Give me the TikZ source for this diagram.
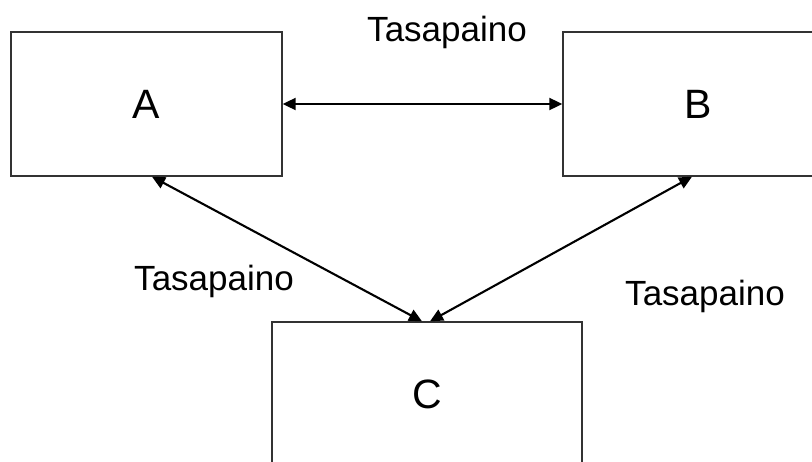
\documentclass[tikz,border=0pt]{standalone}
\usepackage{fontspec}
\setmainfont{Liberation Sans}
\usetikzlibrary{arrows.meta}

\begin{document}
\begin{tikzpicture}[x=1pt,y=-1pt]
\tikzstyle{every node}+=[inner sep=0pt]
\tikzstyle{box}=[draw=black!80, line width=1.4pt, minimum width=271pt, minimum height=144pt, font=\fontsize{41}{48}\selectfont]
\tikzstyle{link}=[line width=2.1pt, {Triangle[length=13pt,width=12pt]}-{Triangle[length=13pt,width=12pt]}]
\tikzstyle{lbl}=[anchor=base, font=\fontsize{35}{42}\selectfont]
\useasboundingbox (0,0) rectangle (812,461);
\clip (0,0) rectangle (812,461);
\node [box] (A) at (146.5,104) {A};
\node [box] (B) at (698.5,104) {B};
\node [box, minimum width=310pt] (C) at (427,394) {C};
\draw [link] (A.east) -- (B.west);
\draw [link] ([xshift=5.5pt]A.south) -- ([xshift=-5pt]C.north);
\draw [link] ([xshift=-6.5pt]B.south) -- ([xshift=3pt]C.north);
\node [lbl] (t1) at (447,41) {Tasapaino};
\node [lbl] (t2) at (214,290) {Tasapaino};
\node [lbl] (t3) at (705,305) {Tasapaino};
\end{tikzpicture}
\end{document}
